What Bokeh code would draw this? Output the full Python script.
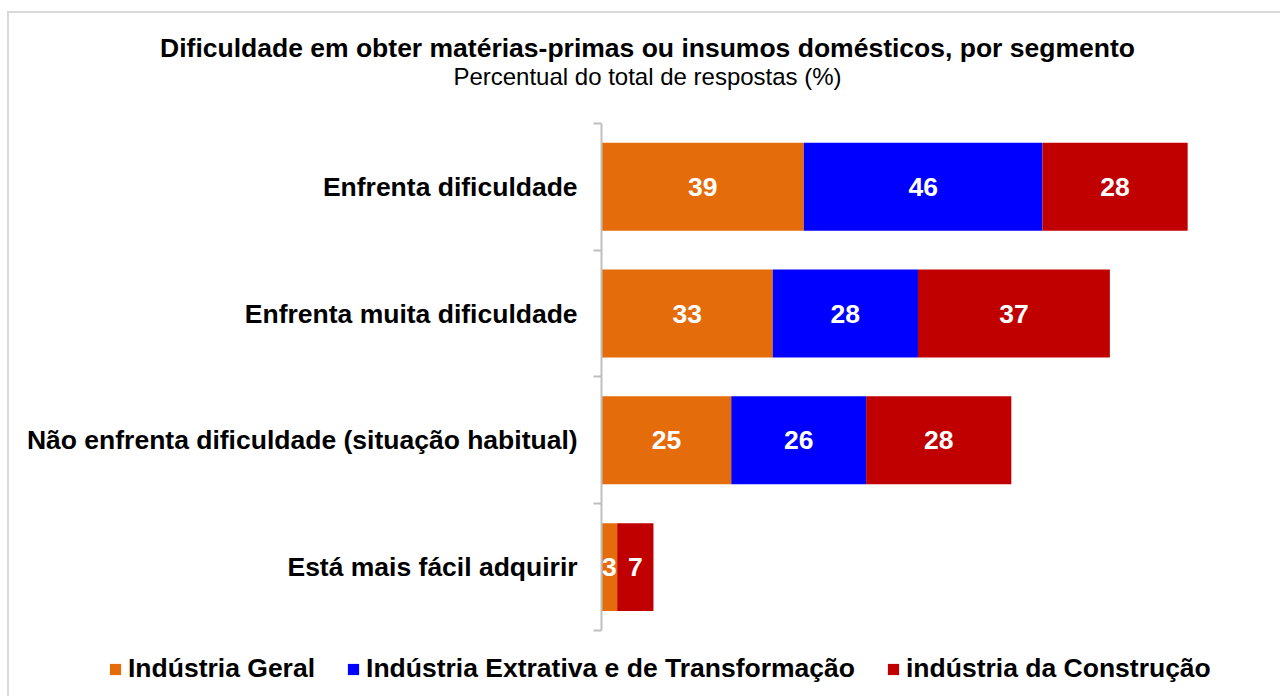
from bokeh.plotting import figure
from bokeh.models import (ColumnDataSource, FixedTicker, Label, Legend, LegendItem, Range1d)
from bokeh.core.properties import value
from bokeh.embed import file_html
from bokeh.resources import INLINE

categories = ["Enfrenta dificuldade", "Enfrenta muita dificuldade",
              "Não enfrenta dificuldade (situação habitual)", "Está mais fácil adquirir"]
series_names = ["Indústria Geral", "Indústria Extrativa e de Transformação", "indústria da Construção"]
geral = [39, 33, 25, 3]
extrativa = [46, 28, 26, 0]
construcao = [28, 37, 28, 7]
colors = ["#E46C0A", "#0000FF", "#C00000"]

title_text = "Dificuldade em obter matérias-primas ou insumos domésticos, por segmento"
subtitle_text = "Percentual do total de respostas (%)"

FONT = "Liberation Sans"
W, H = 1280, 696
n = len(categories)
ypos = [n - i for i in range(n)]  # top category highest

# frame covers the whole canvas; the category axis crosses at 0
p = figure(width=W, height=H, output_backend="svg", toolbar_location=None,
           x_range=Range1d(-115.9, 130.9), y_range=Range1d(-0.0207, 5.470),
           min_border=0)
p.styles = {"background-color": "white",
            "box-shadow": "inset 7px 11px 0 0 #ffffff, inset 9px 13px 0 0 #d9d9d9"}
p.outline_line_color = None
p.xgrid.visible = False
p.ygrid.visible = False
p.xaxis.visible = False
p.background_fill_alpha = 0
p.border_fill_alpha = 0

data = {"y": ypos, "geral": geral, "extrativa": extrativa, "construcao": construcao}
src = ColumnDataSource(data)
renderers = p.hbar_stack(["geral", "extrativa", "construcao"], y="y", height=0.694,
                         color=colors, line_color=None, source=src)

# value labels
lx, ly, lt = [], [], []
for i in range(n):
    left = 0
    for vals in (geral, extrativa, construcao):
        v = vals[i]
        if v > 0:
            lx.append(left + v / 2)
            ly.append(ypos[i])
            lt.append(str(v))
        left += v
p.text(x=lx, y=ly, text=lt, text_align="center", text_baseline="middle",
       text_color="white", text_font=value(FONT), text_font_style="bold",
       text_font_size="26.5px")

# category axis fixed at x = 0; boundary ticks drawn as minor ticks
yax = p.yaxis[0]
yax.fixed_location = 0
yax.bounds = (0.5, n + 0.5)
yax.ticker = FixedTicker(ticks=ypos, minor_ticks=[k + 0.5 for k in range(n + 1)])
yax.major_label_overrides = {ypos[i]: categories[i] for i in range(n)}
yax.major_tick_line_color = None
yax.major_tick_out = 0
yax.major_tick_in = 0
yax.minor_tick_line_color = "#bfbfbf"
yax.minor_tick_line_width = 2
yax.minor_tick_out = 8
yax.minor_tick_in = 0
yax.axis_line_color = "#bfbfbf"
yax.axis_line_width = 2
yax.major_label_standoff = 16
yax.major_label_text_font = FONT
yax.major_label_text_font_style = "bold"
yax.major_label_text_font_size = "26.5px"
yax.major_label_text_color = "black"

# titles
p.add_layout(Label(x=647, y=H - 47, x_units="screen", y_units="screen", text=title_text,
                   text_align="center", text_baseline="middle", text_font=FONT,
                   text_font_style="bold", text_font_size="26.5px", text_color="black"))
p.add_layout(Label(x=647, y=H - 76, x_units="screen", y_units="screen", text=subtitle_text,
                   text_align="center", text_baseline="middle", text_font=FONT,
                   text_font_size="24px", text_color="black"))

legend = Legend(items=[LegendItem(label=series_names[k], renderers=[renderers[k]]) for k in range(3)],
                orientation="horizontal", location=(108, 12))
legend.label_text_font = FONT
legend.label_text_font_style = "bold"
legend.label_text_font_size = "26.5px"
legend.label_text_color = "black"
legend.glyph_width = 14
legend.glyph_height = 14
legend.label_height = 30
legend.label_standoff = 6
legend.spacing = 31
legend.padding = 0
legend.margin = 0
legend.border_line_color = None
legend.background_fill_alpha = 0
p.add_layout(legend)

open("out.html", "w").write(file_html(p, INLINE))
